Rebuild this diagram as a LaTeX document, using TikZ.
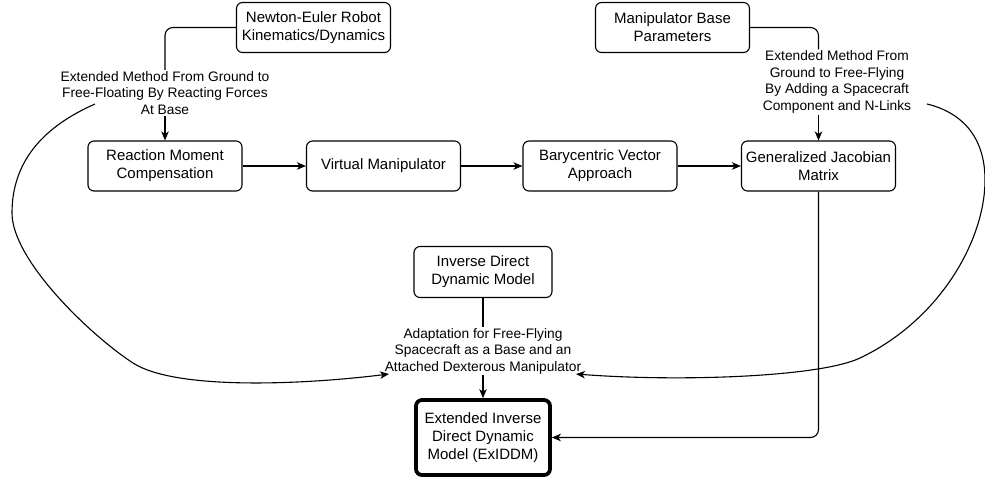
\documentclass[tikz,border=0pt]{standalone}
\usepackage{fontspec}
\setmainfont{Liberation Sans}
\usetikzlibrary{arrows.meta}

\begin{document}
\begin{tikzpicture}[x=1pt, y=-1pt, line width=1.1pt, -{Stealth[length=9pt, width=7.5pt, inset=2.5pt]},
	block/.style={draw, rounded corners=6pt, align=center, minimum width=154pt, minimum height=50pt, inner sep=2pt, font=\fontsize{15}{18}\selectfont},
	note/.style={fill=white, align=center, inner sep=1pt, font=\fontsize{13.75}{16.5}\selectfont}]
	\useasboundingbox (0,0) rectangle (985,480);
	\node[block] (newton) at (313.5,27.5) {Newton-Euler Robot\\Kinematics/Dynamics};
	\node[block] (mbase) at (672.5,27.5) {Manipulator Base\\Parameters};
	\node[block] (reaction) at (165,166) {Reaction Moment\\Compensation};
	\node[block] (virtual) at (383.5,166) {Virtual Manipulator};
	\node[block] (bary) at (600,166) {Barycentric Vector\\Approach};
	\node[block] (jacobian) at (818.5,166) {Generalized Jacobian\\Matrix};
	\node[block, minimum width=138pt, minimum height=51pt] (inverse) at (483,272) {Inverse Direct\\Dynamic Model};
	\node[block, line width=3.75pt, minimum width=134pt, minimum height=75pt] (exiddm) at (483,437.5) {Extended Inverse\\Direct Dynamic\\Model (ExIDDM)};
	\node[note] (ground) at (165,93) {Extended Method From Ground to\\Free-Floating By Reacting Forces\\At Base};
	\node[note] (flying) at (837,82) {Extended Method From\\Ground to Free-Flying\\By Adding a Spacecraft\\Component and N-Links};
	\node[note] (adapt) at (483,351) {Adaptation for Free-Flying\\Spacecraft as a Base and an\\Attached Dexterous Manipulator};
	\coordinate (groundout) at (95,104);
	\coordinate (flyingout) at (927,104);
	\coordinate (adaptleft) at (389,374);
	\coordinate (adaptright) at (576,374);
	\draw[-, rounded corners=8pt] (newton.west) -| (ground.north);
	\draw (ground.south) -- (reaction.north);
	\draw[-, rounded corners=8pt] (mbase.east) -| (flying.north -| jacobian.north);
	\draw (flying.south -| jacobian.north) -- (jacobian.north);
	\draw (reaction) -- (virtual);
	\draw (virtual) -- (bary);
	\draw (bary) -- (jacobian);
	\draw[-] (inverse) -- (adapt);
	\draw (adapt) -- (exiddm);
	\draw[rounded corners=8pt] (jacobian.south) |- (exiddm.east);
	\draw (groundout) .. controls (45,126) and (12,160) .. (12,213) .. controls (12,260) and (90,335) .. (133,363) .. controls (175,390) and (300,385) .. (adaptleft);
	\draw (flyingout) .. controls (960,112) and (985,135) .. (985,180) .. controls (985,240) and (940,320) .. (860,358) .. controls (820,377) and (680,382) .. (adaptright);
\end{tikzpicture}
\end{document}
